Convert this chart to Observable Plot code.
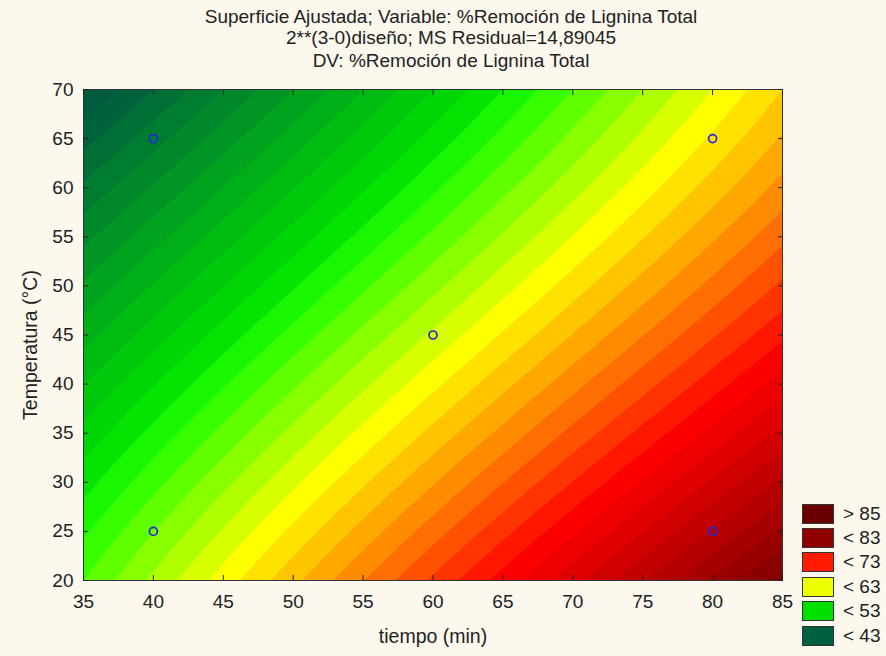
<!DOCTYPE html>
<html>
<head>
<meta charset="utf-8">
<script src="https://cdn.jsdelivr.net/npm/d3@7"></script>
<script src="https://cdn.jsdelivr.net/npm/@observablehq/plot@0.6"></script>
<style>
  body { margin: 0; background: #fdf8ee; font-family: "Liberation Sans", Arial, sans-serif; color: #222; }
  #wrap { position: relative; width: 886px; height: 656px; overflow: hidden; background: #fdf8ee; }
  .tline { position: absolute; left: 0; width: 902px; text-align: center; font-size: 19px; line-height: 22px; white-space: nowrap; }
  #chart { position: absolute; left: 0; top: 78px; }
  .axtitle { position: absolute; font-size: 19.5px; line-height: 22px; white-space: nowrap; transform: translate(-50%, -50%); }
  .legrow { position: absolute; left: 802px; height: 20px; }
  .sw { position: absolute; left: 0; top: 0; width: 30px; height: 18px; border: 1px solid #333; }
  .lab { position: absolute; left: 41px; top: -1px; font-size: 19px; line-height: 22px; white-space: nowrap; }
</style>
</head>
<body>
<div id="wrap">
  <div class="tline" style="top:6px">Superficie Ajustada; Variable: %Remoción de Lignina Total</div>
  <div class="tline" style="top:27px">2**(3-0)diseño; MS Residual=14,89045</div>
  <div class="tline" style="top:50px">DV: %Remoción de Lignina Total</div>
  <div id="chart"></div>
  <div class="axtitle" style="left:433px; top:636px">tiempo (min)</div>
  <div class="axtitle" style="left:30px; top:345px; transform: translate(-50%,-50%) rotate(-90deg)">Temperatura (°C)</div>
  <div id="legend"></div>
</div>
<script>
// Axis ticks
const xTicks = [35, 40, 45, 50, 55, 60, 65, 70, 75, 80, 85];
const yTicks = [20, 25, 30, 35, 40, 45, 50, 55, 60, 65, 70];

// Design points (tiempo, temperatura)
const pointTiempo = [40, 80, 60, 40, 80];
const pointTemp   = [65, 65, 45, 25, 25];

// Fitted surface on a 3x3 grid
const gridTiempo = [35, 60, 85];
const gridTemp   = [20, 45, 70];
const zAtTemp20 = [58, 72, 86];
const zAtTemp45 = [50, 62, 74];
const zAtTemp70 = [40.5, 53, 65.5];

// Contour colour anchors
const contourLevels = [41, 54, 56, 63, 74, 86];
const contourColors = ["#005a40", "#00e000", "#20ff00", "#ffff00", "#ff0000", "#760000"];
const contourStep = 1.25;

// Legend
const legendLabels = ["> 85", "< 83", "< 73", "< 63", "< 53", "< 43"];
const legendColors = ["#6b0000", "#900000", "#ff1a00", "#eeff00", "#00e000", "#006040"];

const zRows = [zAtTemp20, zAtTemp45, zAtTemp70];
// smooth quadratic (Lagrange) interpolation through the 3x3 readings
function lagrange(g, v) {
  const [a, b, c] = g;
  return [
    ((v - b) * (v - c)) / ((a - b) * (a - c)),
    ((v - a) * (v - c)) / ((b - a) * (b - c)),
    ((v - a) * (v - b)) / ((c - a) * (c - b))
  ];
}
function surface(x, y) {
  const lx = lagrange(gridTiempo, x), ly = lagrange(gridTemp, y);
  let z = 0;
  for (let j = 0; j < 3; ++j) for (let i = 0; i < 3; ++i) z += zRows[j][i] * lx[i] * ly[j];
  return z;
}
const thresholds = d3.range(33, 92, contourStep);

const points = pointTiempo.map((t, k) => ({t, T: pointTemp[k]}));

const chart = Plot.plot({
  width: 886, height: 578,
  marginLeft: 83, marginRight: 104, marginTop: 11, marginBottom: 76,
  style: { background: "transparent", fontFamily: "Liberation Sans, Arial, sans-serif", fontSize: "19px", color: "#222" },
  x: { domain: [35, 85] },
  y: { domain: [20, 70] },
  color: { type: "linear", domain: contourLevels, range: contourColors, interpolate: "rgb", clamp: true },
  marks: [
    Plot.contour({ x1: 35, x2: 85, y1: 20, y2: 70, fill: surface, thresholds, stroke: "none", pixelSize: 1 }),
    Plot.dot(points, { x: "t", y: "T", r: 4, stroke: "#2626dc", strokeWidth: 1.7, fill: "none" }),
    Plot.frame({ stroke: "#333" }),
    Plot.axisX(xTicks, { anchor: "bottom", tickSize: -5, tickPadding: 19, label: null, stroke: "#222" }),
    Plot.axisX(xTicks, { anchor: "top", tickSize: -5, tickFormat: () => "", label: null, stroke: "#222" }),
    Plot.axisY(yTicks, { anchor: "left", tickSize: -5, tickPadding: 15, label: null, stroke: "#222" }),
    Plot.axisY(yTicks, { anchor: "right", tickSize: -5, tickFormat: () => "", label: null, stroke: "#222" })
  ]
});
document.getElementById("chart").appendChild(chart);

const legendTops = [504, 528, 552, 577, 601, 626];
const leg = document.getElementById("legend");
legendLabels.forEach((lab, k) => {
  const row = document.createElement("div");
  row.className = "legrow";
  row.style.top = legendTops[k] + "px";
  row.innerHTML = `<div class="sw" style="background:${legendColors[k]}"></div><div class="lab">${lab}</div>`;
  leg.appendChild(row);
});
</script>
</body>
</html>
